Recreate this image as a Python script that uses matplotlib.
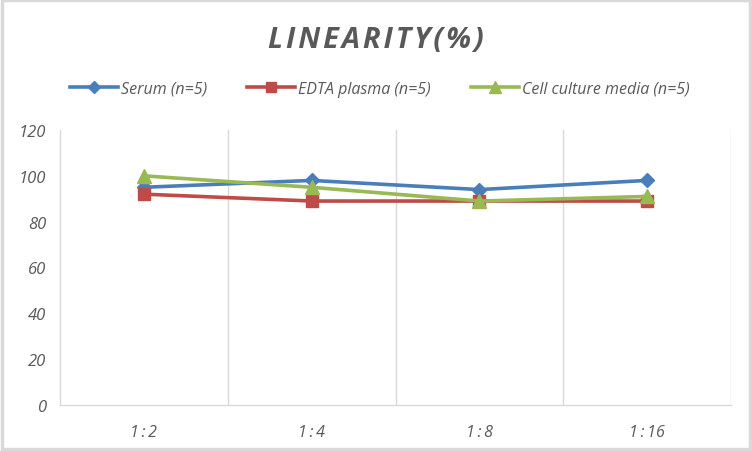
import matplotlib.pyplot as plt
from matplotlib.patches import Rectangle

categories = ["1:2", "1:4", "1:8", "1:16"]
serum = [95, 98, 94, 98]
edta_plasma = [92, 89, 89, 89]
cell_culture = [100, 95, 89, 91]
y_ticks = [0, 20, 40, 60, 80, 100, 120]

series = [
    ("Serum (n=5)", serum, "#4A7EBB", "D", 7.5),
    ("EDTA plasma (n=5)", edta_plasma, "#BE4B48", "s", 9),
    ("Cell culture media (n=5)", cell_culture, "#98B954", "^", 9.5),
]

text_color = "#595959"
grid_color = "#D9D9D9"
font = "Open Sans"

fig = plt.figure(figsize=(7.52, 4.52), dpi=100)
ax = fig.add_axes([60 / 752, 46 / 452, 671 / 752, 275 / 452])

x = list(range(len(categories)))
for label, values, color, marker, size in series:
    ax.plot(x, values, color=color, linewidth=2.6, marker=marker,
            markersize=size, markerfacecolor=color, markeredgecolor=color,
            label=label, solid_joinstyle="round")

ax.set_xlim(-0.5, len(categories) - 0.5)
ax.set_ylim(0, 120)
ax.set_yticks(y_ticks)
ax.set_yticklabels([str(v) for v in y_ticks], fontsize=12, style="italic",
                   color=text_color, family=font)
ax.set_xticks(x)
ax.set_xticklabels([c.replace(":", "\u2009:\u2009") for c in categories],
                   fontsize=11.5, style="italic", color=text_color,
                   family=font)
ax.tick_params(length=0, pad=10)
ax.tick_params(axis="x", pad=14)

# vertical separators between categories
for b in [0.5, 1.5, 2.5, 3.5]:
    ax.axvline(b, color=grid_color, linewidth=1, zorder=0)

for side in ["top", "right"]:
    ax.spines[side].set_visible(False)
for side in ["left", "bottom"]:
    ax.spines[side].set_color(grid_color)
    ax.spines[side].set_linewidth(1)

title = "\u200a".join("LINEARITY(%)")
fig.text(0.5, 1 - 40 / 452, title,
         ha="center", va="center", fontsize=21, fontweight="bold",
         style="italic", color=text_color, family=[font, "DejaVu Sans"])

leg = fig.legend(loc="center", bbox_to_anchor=(0.505, 1 - 90 / 452), ncol=3,
                 frameon=False, handlelength=3.0, columnspacing=2.5,
                 handletextpad=0.2, markerscale=0.85,
                 prop={"family": font, "style": "italic", "size": 11.5})
for t in leg.get_texts():
    t.set_color(text_color)

# light frame around the chart area
fig.patches.append(Rectangle((0.002, 0.004), 0.996, 0.993,
                             transform=fig.transFigure, fill=False,
                             edgecolor=grid_color, linewidth=2.5))

fig.savefig("out.png", dpi=100)
